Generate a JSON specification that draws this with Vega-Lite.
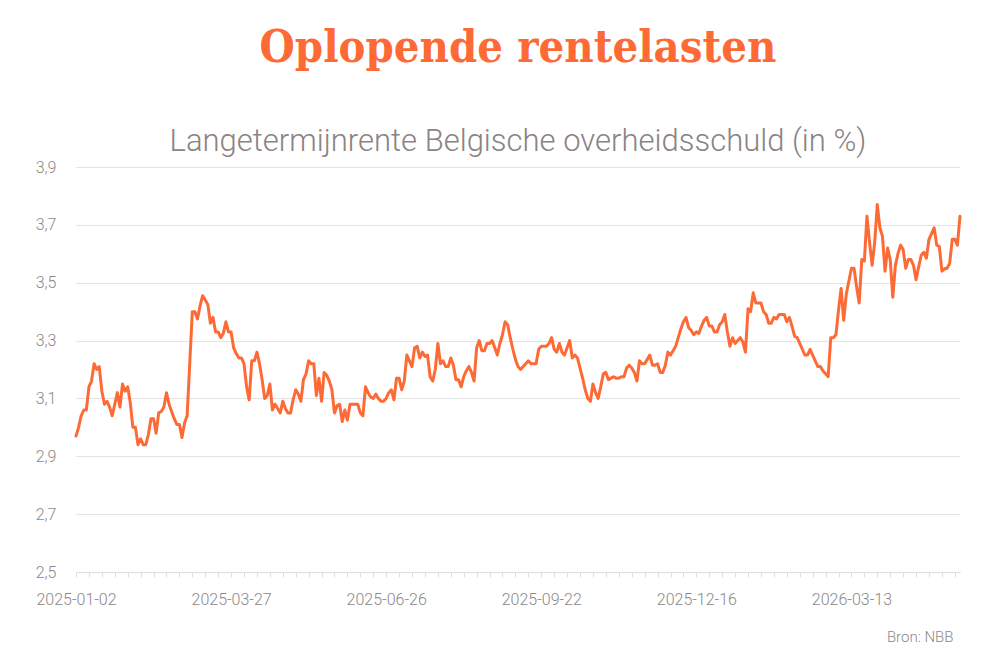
{
  "$schema": "https://vega.github.io/schema/vega-lite/v6.json",
  "width": 884,
  "height": 405,
  "autosize": {"type": "pad"},
  "padding": {"left": 35, "top": 26, "right": 40, "bottom": 10},
  "background": "white",
  "title": {
    "text": "Oplopende rentelasten",
    "subtitle": "Langetermijnrente Belgische overheidsschuld (in %)",
    "anchor": "middle",
    "font": "DejaVu Serif Condensed, DejaVu Serif",
    "fontSize": 45,
    "fontWeight": "bold",
    "color": "#fe6a35",
    "subtitleFont": "Roboto",
    "subtitleFontSize": 31,
    "subtitleFontWeight": 300,
    "subtitleColor": "#8a8383",
    "subtitlePadding": 56,
    "offset": 2
  },
  "data": {"values": [
    {"dag":0,"rente":2.97},{"dag":1,"rente":3.00},{"dag":2,"rente":3.04},{"dag":3,"rente":3.06},{"dag":4,"rente":3.06},
    {"dag":5,"rente":3.14},{"dag":6,"rente":3.16},{"dag":7,"rente":3.22},{"dag":8,"rente":3.20},{"dag":9,"rente":3.21},
    {"dag":10,"rente":3.125},{"dag":11,"rente":3.08},{"dag":12,"rente":3.09},{"dag":13,"rente":3.07},{"dag":14,"rente":3.04},
    {"dag":15,"rente":3.08},{"dag":16,"rente":3.12},{"dag":17,"rente":3.07},{"dag":18,"rente":3.15},{"dag":19,"rente":3.125},
    {"dag":20,"rente":3.14},{"dag":21,"rente":3.085},{"dag":22,"rente":3.00},{"dag":23,"rente":3.00},{"dag":24,"rente":2.94},
    {"dag":25,"rente":2.96},{"dag":26,"rente":2.94},{"dag":27,"rente":2.94},{"dag":28,"rente":2.975},{"dag":29,"rente":3.03},
    {"dag":30,"rente":3.03},{"dag":31,"rente":2.98},{"dag":32,"rente":3.05},{"dag":33,"rente":3.055},{"dag":34,"rente":3.07},
    {"dag":35,"rente":3.12},{"dag":36,"rente":3.08},{"dag":37,"rente":3.055},{"dag":38,"rente":3.03},{"dag":39,"rente":3.01},
    {"dag":40,"rente":3.01},{"dag":41,"rente":2.965},{"dag":42,"rente":3.015},{"dag":43,"rente":3.04},{"dag":44,"rente":3.22},
    {"dag":45,"rente":3.40},{"dag":46,"rente":3.40},{"dag":47,"rente":3.375},{"dag":48,"rente":3.42},{"dag":49,"rente":3.455},
    {"dag":50,"rente":3.44},{"dag":51,"rente":3.425},{"dag":52,"rente":3.36},{"dag":53,"rente":3.38},{"dag":54,"rente":3.33},
    {"dag":55,"rente":3.33},{"dag":56,"rente":3.31},{"dag":57,"rente":3.325},{"dag":58,"rente":3.365},{"dag":59,"rente":3.33},
    {"dag":60,"rente":3.33},{"dag":61,"rente":3.275},{"dag":62,"rente":3.255},{"dag":63,"rente":3.24},{"dag":64,"rente":3.24},
    {"dag":65,"rente":3.22},{"dag":66,"rente":3.14},{"dag":67,"rente":3.095},{"dag":68,"rente":3.23},{"dag":69,"rente":3.23},
    {"dag":70,"rente":3.26},{"dag":71,"rente":3.22},{"dag":72,"rente":3.165},{"dag":73,"rente":3.10},{"dag":74,"rente":3.11},
    {"dag":75,"rente":3.15},{"dag":76,"rente":3.06},{"dag":77,"rente":3.08},{"dag":78,"rente":3.065},{"dag":79,"rente":3.05},
    {"dag":80,"rente":3.09},{"dag":81,"rente":3.065},{"dag":82,"rente":3.05},{"dag":83,"rente":3.05},{"dag":84,"rente":3.095},
    {"dag":85,"rente":3.13},{"dag":86,"rente":3.115},{"dag":87,"rente":3.09},{"dag":88,"rente":3.165},{"dag":89,"rente":3.185},
    {"dag":90,"rente":3.23},{"dag":91,"rente":3.22},{"dag":92,"rente":3.22},{"dag":93,"rente":3.11},{"dag":94,"rente":3.17},
    {"dag":95,"rente":3.09},{"dag":96,"rente":3.19},{"dag":97,"rente":3.18},{"dag":98,"rente":3.16},{"dag":99,"rente":3.13},
    {"dag":100,"rente":3.05},{"dag":101,"rente":3.075},{"dag":102,"rente":3.08},{"dag":103,"rente":3.02},{"dag":104,"rente":3.06},
    {"dag":105,"rente":3.025},{"dag":106,"rente":3.08},{"dag":107,"rente":3.08},{"dag":108,"rente":3.08},{"dag":109,"rente":3.08},
    {"dag":110,"rente":3.05},{"dag":111,"rente":3.04},{"dag":112,"rente":3.14},{"dag":113,"rente":3.12},{"dag":114,"rente":3.105},
    {"dag":115,"rente":3.10},{"dag":116,"rente":3.115},{"dag":117,"rente":3.10},{"dag":118,"rente":3.09},{"dag":119,"rente":3.09},
    {"dag":120,"rente":3.10},{"dag":121,"rente":3.12},{"dag":122,"rente":3.13},{"dag":123,"rente":3.095},{"dag":124,"rente":3.17},
    {"dag":125,"rente":3.17},{"dag":126,"rente":3.13},{"dag":127,"rente":3.16},{"dag":128,"rente":3.25},{"dag":129,"rente":3.23},
    {"dag":130,"rente":3.21},{"dag":131,"rente":3.275},{"dag":132,"rente":3.28},{"dag":133,"rente":3.24},{"dag":134,"rente":3.26},
    {"dag":135,"rente":3.245},{"dag":136,"rente":3.25},{"dag":137,"rente":3.175},{"dag":138,"rente":3.16},{"dag":139,"rente":3.20},
    {"dag":140,"rente":3.29},{"dag":141,"rente":3.22},{"dag":142,"rente":3.23},{"dag":143,"rente":3.21},{"dag":144,"rente":3.21},
    {"dag":145,"rente":3.24},{"dag":146,"rente":3.215},{"dag":147,"rente":3.165},{"dag":148,"rente":3.165},{"dag":149,"rente":3.14},
    {"dag":150,"rente":3.175},{"dag":151,"rente":3.195},{"dag":152,"rente":3.21},{"dag":153,"rente":3.19},{"dag":154,"rente":3.16},
    {"dag":155,"rente":3.275},{"dag":156,"rente":3.30},{"dag":157,"rente":3.265},{"dag":158,"rente":3.265},{"dag":159,"rente":3.29},
    {"dag":160,"rente":3.29},{"dag":161,"rente":3.30},{"dag":162,"rente":3.275},{"dag":163,"rente":3.25},{"dag":164,"rente":3.29},
    {"dag":165,"rente":3.32},{"dag":166,"rente":3.365},{"dag":167,"rente":3.355},{"dag":168,"rente":3.31},{"dag":169,"rente":3.27},
    {"dag":170,"rente":3.235},{"dag":171,"rente":3.21},{"dag":172,"rente":3.20},{"dag":173,"rente":3.21},{"dag":174,"rente":3.22},
    {"dag":175,"rente":3.23},{"dag":176,"rente":3.22},{"dag":177,"rente":3.22},{"dag":178,"rente":3.22},{"dag":179,"rente":3.27},
    {"dag":180,"rente":3.28},{"dag":181,"rente":3.28},{"dag":182,"rente":3.28},{"dag":183,"rente":3.29},{"dag":184,"rente":3.31},
    {"dag":185,"rente":3.27},{"dag":186,"rente":3.26},{"dag":187,"rente":3.29},{"dag":188,"rente":3.26},{"dag":189,"rente":3.25},
    {"dag":190,"rente":3.275},{"dag":191,"rente":3.30},{"dag":192,"rente":3.24},{"dag":193,"rente":3.25},{"dag":194,"rente":3.24},
    {"dag":195,"rente":3.205},{"dag":196,"rente":3.17},{"dag":197,"rente":3.13},{"dag":198,"rente":3.10},{"dag":199,"rente":3.09},
    {"dag":200,"rente":3.15},{"dag":201,"rente":3.12},{"dag":202,"rente":3.10},{"dag":203,"rente":3.14},{"dag":204,"rente":3.185},
    {"dag":205,"rente":3.19},{"dag":206,"rente":3.165},{"dag":207,"rente":3.17},{"dag":208,"rente":3.175},{"dag":209,"rente":3.17},
    {"dag":210,"rente":3.17},{"dag":211,"rente":3.175},{"dag":212,"rente":3.175},{"dag":213,"rente":3.205},{"dag":214,"rente":3.215},
    {"dag":215,"rente":3.205},{"dag":216,"rente":3.19},{"dag":217,"rente":3.16},{"dag":218,"rente":3.23},{"dag":219,"rente":3.22},
    {"dag":220,"rente":3.22},{"dag":221,"rente":3.235},{"dag":222,"rente":3.25},{"dag":223,"rente":3.215},{"dag":224,"rente":3.215},
    {"dag":225,"rente":3.22},{"dag":226,"rente":3.19},{"dag":227,"rente":3.19},{"dag":228,"rente":3.215},{"dag":229,"rente":3.26},
    {"dag":230,"rente":3.25},{"dag":231,"rente":3.265},{"dag":232,"rente":3.28},{"dag":233,"rente":3.31},{"dag":234,"rente":3.34},
    {"dag":235,"rente":3.365},{"dag":236,"rente":3.38},{"dag":237,"rente":3.345},{"dag":238,"rente":3.335},{"dag":239,"rente":3.32},
    {"dag":240,"rente":3.33},{"dag":241,"rente":3.325},{"dag":242,"rente":3.35},{"dag":243,"rente":3.37},{"dag":244,"rente":3.38},
    {"dag":245,"rente":3.35},{"dag":246,"rente":3.35},{"dag":247,"rente":3.33},{"dag":248,"rente":3.33},{"dag":249,"rente":3.355},
    {"dag":250,"rente":3.365},{"dag":251,"rente":3.39},{"dag":252,"rente":3.33},{"dag":253,"rente":3.28},{"dag":254,"rente":3.31},
    {"dag":255,"rente":3.29},{"dag":256,"rente":3.30},{"dag":257,"rente":3.31},{"dag":258,"rente":3.295},{"dag":259,"rente":3.26},
    {"dag":260,"rente":3.41},{"dag":261,"rente":3.40},{"dag":262,"rente":3.465},{"dag":263,"rente":3.43},{"dag":264,"rente":3.43},
    {"dag":265,"rente":3.43},{"dag":266,"rente":3.40},{"dag":267,"rente":3.39},{"dag":268,"rente":3.36},{"dag":269,"rente":3.36},
    {"dag":270,"rente":3.38},{"dag":271,"rente":3.375},{"dag":272,"rente":3.39},{"dag":273,"rente":3.39},{"dag":274,"rente":3.39},
    {"dag":275,"rente":3.365},{"dag":276,"rente":3.38},{"dag":277,"rente":3.35},{"dag":278,"rente":3.315},{"dag":279,"rente":3.31},
    {"dag":280,"rente":3.29},{"dag":281,"rente":3.27},{"dag":282,"rente":3.25},{"dag":283,"rente":3.25},{"dag":284,"rente":3.27},
    {"dag":285,"rente":3.25},{"dag":286,"rente":3.23},{"dag":287,"rente":3.21},{"dag":288,"rente":3.21},{"dag":289,"rente":3.195},
    {"dag":290,"rente":3.185},{"dag":291,"rente":3.175},{"dag":292,"rente":3.31},{"dag":293,"rente":3.31},{"dag":294,"rente":3.32},
    {"dag":295,"rente":3.405},{"dag":296,"rente":3.48},{"dag":297,"rente":3.37},{"dag":298,"rente":3.46},{"dag":299,"rente":3.505},
    {"dag":300,"rente":3.55},{"dag":301,"rente":3.55},{"dag":302,"rente":3.485},{"dag":303,"rente":3.43},{"dag":304,"rente":3.58},
    {"dag":305,"rente":3.575},{"dag":306,"rente":3.73},{"dag":307,"rente":3.64},{"dag":308,"rente":3.56},{"dag":309,"rente":3.64},
    {"dag":310,"rente":3.77},{"dag":311,"rente":3.69},{"dag":312,"rente":3.66},{"dag":313,"rente":3.54},{"dag":314,"rente":3.62},
    {"dag":315,"rente":3.58},{"dag":316,"rente":3.45},{"dag":317,"rente":3.56},{"dag":318,"rente":3.60},{"dag":319,"rente":3.63},
    {"dag":320,"rente":3.615},{"dag":321,"rente":3.55},{"dag":322,"rente":3.58},{"dag":323,"rente":3.58},{"dag":324,"rente":3.56},
    {"dag":325,"rente":3.51},{"dag":326,"rente":3.555},{"dag":327,"rente":3.595},{"dag":328,"rente":3.605},{"dag":329,"rente":3.585},
    {"dag":330,"rente":3.65},{"dag":331,"rente":3.67},{"dag":332,"rente":3.69},{"dag":333,"rente":3.63},{"dag":334,"rente":3.625},
    {"dag":335,"rente":3.54},{"dag":336,"rente":3.548},{"dag":337,"rente":3.55},{"dag":338,"rente":3.567},{"dag":339,"rente":3.65},
    {"dag":340,"rente":3.65},{"dag":341,"rente":3.63},{"dag":342,"rente":3.73}
  ]},
  "mark": {"type": "line", "color": "#fe6a35", "strokeWidth": 3, "strokeJoin": "round", "strokeCap": "round"},
  "encoding": {
    "x": {
      "field": "dag",
      "type": "quantitative",
      "scale": {"domain": [0, 342], "nice": false, "zero": false},
      "axis": {
        "values": [0,5,10,15,20,25,30,35,40,45,50,55,60,65,70,75,80,85,90,95,100,105,110,115,120,125,130,135,140,145,150,155,160,165,170,175,180,185,190,195,200,205,210,215,220,225,230,235,240,245,250,255,260,265,270,275,280,285,290,295,300,305,310,315,320,325,330,335,340],
        "labelExpr": "datum.value == 0 ? '2025-01-02' : datum.value == 60 ? '2025-03-27' : datum.value == 120 ? '2025-06-26' : datum.value == 180 ? '2025-09-22' : datum.value == 240 ? '2025-12-16' : datum.value == 300 ? '2026-03-13' : ''",
        "grid": false,
        "domain": true,
        "domainColor": "#dddddd",
        "domainWidth": 1,
        "ticks": true,
        "tickColor": "#dddddd",
        "tickSize": 5,
        "labelFont": "Roboto",
        "labelFontSize": 16,
        "labelFontWeight": 300,
        "labelColor": "#8a8888",
        "labelPadding": 14,
        "labelOverlap": false,
        "labelFlush": false,
        "title": "Bron: NBB",
        "titleFont": "Roboto",
        "titleFontSize": 15,
        "titleFontWeight": 300,
        "titleColor": "#8a8888",
        "titleAlign": "right",
        "titleAnchor": "end",
        "titleX": 877,
        "titlePadding": 22
      }
    },
    "y": {
      "field": "rente",
      "type": "quantitative",
      "scale": {"domain": [2.5, 3.9], "nice": false, "zero": false},
      "axis": {
        "values": [2.5, 2.7, 2.9, 3.1, 3.3, 3.5, 3.7, 3.9],
        "labelExpr": "replace(format(datum.value, '.1f'), '.', ',')",
        "domain": false,
        "ticks": false,
        "grid": true,
        "gridColor": "#e3e3e3",
        "gridWidth": 1,
        "labelFont": "Roboto",
        "labelFontSize": 16,
        "labelFontWeight": 300,
        "labelColor": "#8a8888",
        "labelPadding": 20,
        "title": null
      }
    }
  },
  "config": {"view": {"stroke": null}}
}
